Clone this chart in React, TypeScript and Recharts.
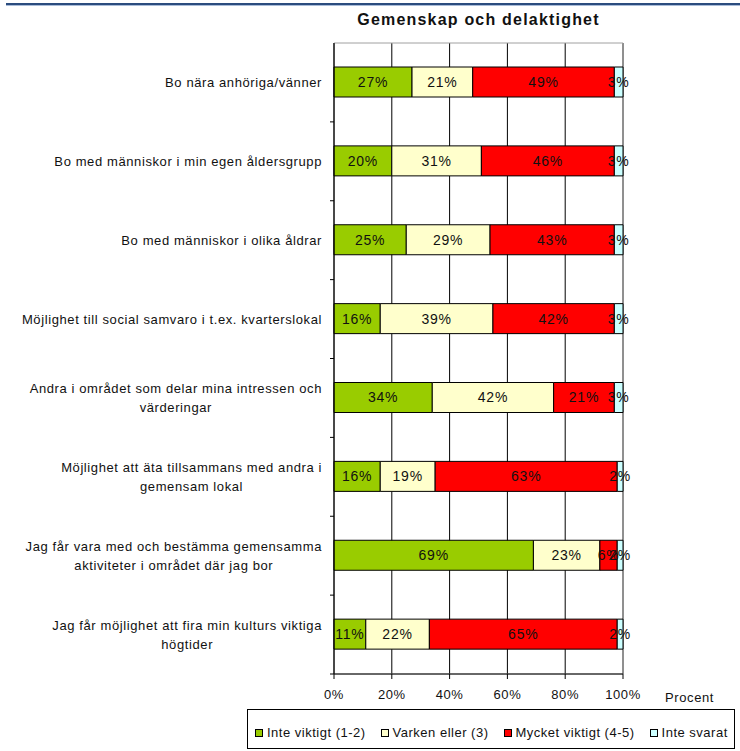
import React from 'react';
import { BarChart, Bar, XAxis, YAxis, CartesianGrid, LabelList, ReferenceArea } from 'recharts';

// categories, top to bottom (\n = line break as in the original)
const categories = [
  'Bo nära anhöriga/vänner',
  'Bo med människor i min egen åldersgrupp',
  'Bo med människor i olika åldrar',
  'Möjlighet till social samvaro i t.ex. kvarterslokal',
  'Andra i området som delar mina intressen och\nvärderingar',
  'Möjlighet att äta tillsammans med andra i\ngemensam lokal',
  'Jag får vara med och bestämma gemensamma\naktiviteter i området där jag bor',
  'Jag får möjlighet att fira min kulturs viktiga\nhögtider',
];

const inteViktigt = [27, 20, 25, 16, 34, 16, 69, 11];
const varkenEller = [21, 31, 29, 39, 42, 19, 23, 22];
const mycketViktigt = [49, 46, 43, 42, 21, 63, 6, 65];
const inteSvarat = [3, 3, 3, 3, 3, 2, 2, 2];

const seriesKeys = ['inte', 'varken', 'mycket', 'svarat'];
const seriesNames = ['Inte viktigt (1-2)', 'Varken eller (3)', 'Mycket viktigt (4-5)', 'Inte svarat'];
const seriesColors = ['#99cc00', '#ffffcc', '#ff0000', '#ccffff'];
const xTicks = [0, 20, 40, 60, 80, 100];

const data = categories.map((name, i) => ({
  name,
  inte: inteViktigt[i],
  varken: varkenEller[i],
  mycket: mycketViktigt[i],
  svarat: inteSvarat[i],
}));

const W = 740;
const H = 751;
const margin = { top: 43, right: 117, bottom: 47, left: 0 };
const yAxisWidth = 334;
const xAxisHeight = 30;
const plotH = H - margin.top - margin.bottom - xAxisHeight;
const band = plotH / categories.length;

const FONT = "'Liberation Sans', Arial, sans-serif";
const SPACING = 0.6;

let ctx: CanvasRenderingContext2D | null = null;
function measure(text: string) {
  if (!ctx) ctx = document.createElement('canvas').getContext('2d');
  if (!ctx) return text.length * 7;
  ctx.font = `13px ${FONT}`;
  return ctx.measureText(text).width + text.length * SPACING;
}

function CategoryTick({ x, y, payload }: any) {
  const lines = String(payload.value).split('\n');
  const maxW = Math.max(...lines.map(measure));
  const lh = 19;
  const y0 = y - ((lines.length - 1) * lh) / 2;
  return (
    <g>
      <line x1={x + 8} x2={x + 12} y1={y + band / 2} y2={y + band / 2} stroke="#000" />
      {lines.map((l, i) => (
        <text
          key={i}
          x={x - maxW / 2}
          y={y0 + i * lh}
          textAnchor="middle"
          dominantBaseline="central"
          fontSize={13}
          fontFamily={FONT}
          letterSpacing={SPACING}
          fill="#111"
        >
          {l}
        </text>
      ))}
    </g>
  );
}

export default function App() {
  return (
    <div style={{ position: 'absolute', left: 0, top: 0, width: W, height: H, background: '#fff', fontFamily: FONT }}>
      <div style={{ position: 'absolute', left: 6, top: 3, width: W - 6, height: 2, background: '#2b4c7e' }} />
      <div style={{ position: 'absolute', left: 6, top: 5, width: W - 6, height: 1, background: '#a9bcd8' }} />
      <div
        style={{
          position: 'absolute', left: 334, top: 10, width: 289, textAlign: 'center',
          fontSize: 16, lineHeight: '20px', fontWeight: 'bold', letterSpacing: 1.2, color: '#111',
        }}
      >
        Gemenskap och delaktighet
      </div>
      <BarChart width={W} height={H} data={data} layout="vertical" margin={margin} barSize={30}>
        <CartesianGrid horizontal={false} stroke="#000" />
        <ReferenceArea x1={0} x2={100} fill="none" stroke="#a0a0a0" strokeOpacity={1} fillOpacity={0} />
        <XAxis
          type="number"
          domain={[0, 100]}
          ticks={xTicks}
          height={xAxisHeight}
          tickFormatter={(v) => `${v}%`}
          axisLine={{ stroke: '#000' }}
          tickLine={{ stroke: '#000' }}
          tickSize={5}
          tickMargin={11}
          tick={{ fontSize: 13, fill: '#111', fontFamily: FONT, letterSpacing: SPACING }}
        />
        <YAxis
          type="category"
          dataKey="name"
          width={yAxisWidth}
          axisLine={{ stroke: '#000' }}
          tickLine={false}
          tickSize={0}
          tickMargin={12}
          interval={0}
          tick={<CategoryTick />}
        />
        {seriesKeys.map((k, i) => (
          <Bar
            key={k}
            dataKey={k}
            name={seriesNames[i]}
            stackId="a"
            fill={seriesColors[i]}
            stroke="#000"
            strokeWidth={1}
            isAnimationActive={false}
          >
            <LabelList
              dataKey={k}
              position="center"
              formatter={(v: any) => `${v}%`}
              fill="#111"
              fontSize={14}
              fontFamily={FONT}
              letterSpacing={0.8}
            />
          </Bar>
        ))}
      </BarChart>
      <div
        style={{
          position: 'absolute', left: 665, top: 690, fontSize: 13, lineHeight: '16px',
          letterSpacing: SPACING, color: '#111',
        }}
      >
        Procent
      </div>
      <div
        style={{
          position: 'absolute', left: 247, top: 709, width: 488, height: 40, boxSizing: 'border-box',
          border: '1px solid #000', display: 'flex', alignItems: 'center', paddingLeft: 7, paddingTop: 7,
          gap: 15, fontSize: 13, letterSpacing: 0.5, color: '#111',
        }}
      >
        {seriesNames.map((n, i) => (
          <div key={n} style={{ display: 'flex', alignItems: 'center', gap: 4, whiteSpace: 'nowrap' }}>
            <span
              style={{
                display: 'inline-block', width: 6, height: 6, border: '1px solid #000',
                background: seriesColors[i],
              }}
            />
            <span>{n}</span>
          </div>
        ))}
      </div>
    </div>
  );
}
